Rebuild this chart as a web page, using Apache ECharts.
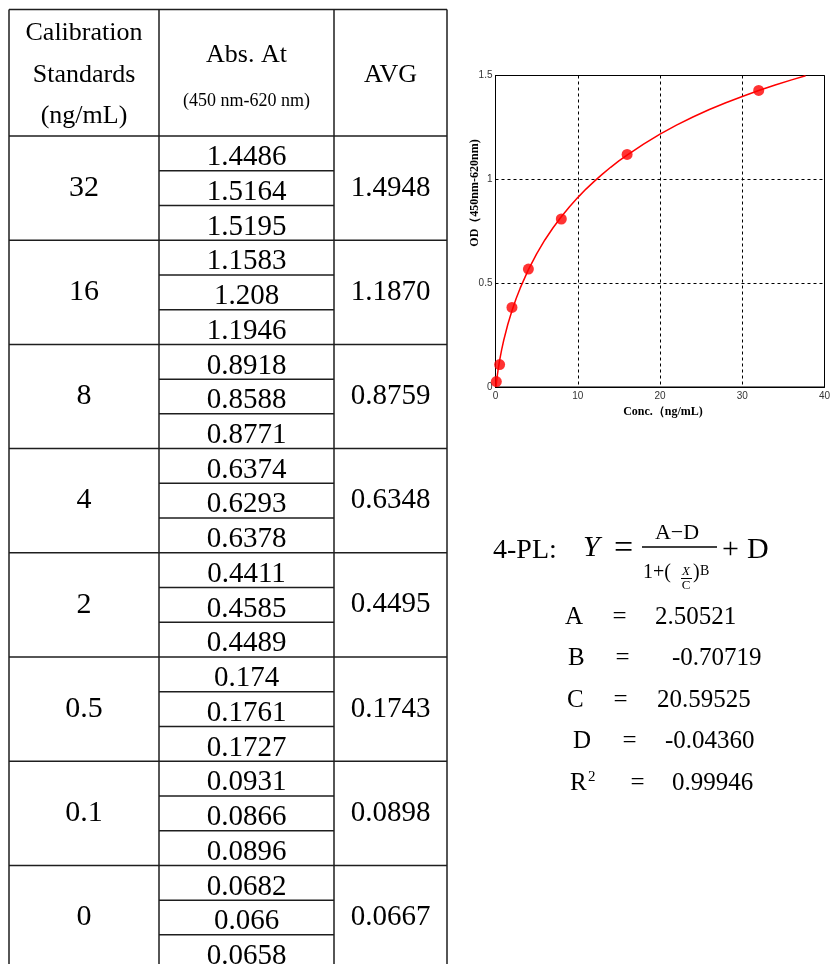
<!DOCTYPE html>
<html>
<head>
<meta charset="utf-8">
<script src="https://cdn.jsdelivr.net/npm/echarts@6/dist/echarts.min.js"></script>
<style>html,body{margin:0;padding:0;background:#fff;}#main{width:837px;height:964px;}</style>
</head>
<body>
<div id="main"></div>
<script>
// ---- table data ----
const headerCol1 = ['Calibration', 'Standards', '(ng/mL)'];
const headerCol2 = ['Abs. At', '(450 nm-620 nm)'];
const headerCol3 = ['AVG'];
const standards = ['32', '16', '8', '4', '2', '0.5', '0.1', '0'];
const replicates = [
  ['1.4486', '1.5164', '1.5195'],
  ['1.1583', '1.208', '1.1946'],
  ['0.8918', '0.8588', '0.8771'],
  ['0.6374', '0.6293', '0.6378'],
  ['0.4411', '0.4585', '0.4489'],
  ['0.174', '0.1761', '0.1727'],
  ['0.0931', '0.0866', '0.0896'],
  ['0.0682', '0.066', '0.0658']
];
const averages = ['1.4948', '1.1870', '0.8759', '0.6348', '0.4495', '0.1743', '0.0898', '0.0667'];

// ---- chart data ----
const pointConc = [32, 16, 8, 4, 2, 0.5, 0.1];
const pointOD = [1.428, 1.120, 0.809, 0.568, 0.383, 0.108, 0.026];
const curveConc = [0.07, 0.1, 0.15, 0.25, 0.35, 0.5, 0.75, 1, 1.5, 2, 2.5, 3, 4, 5, 6, 7, 8, 9, 10, 11, 12, 13, 14, 15, 16, 18, 20, 22, 24, 26, 28, 30, 32, 34, 36, 37.7];
const curveOD = [0.001, 0.014, 0.033, 0.064, 0.092, 0.128, 0.180, 0.225, 0.302, 0.367, 0.425, 0.476, 0.565, 0.641, 0.708, 0.767, 0.820, 0.868, 0.912, 0.953, 0.990, 1.025, 1.058, 1.089, 1.117, 1.170, 1.218, 1.261, 1.300, 1.336, 1.369, 1.399, 1.428, 1.454, 1.479, 1.499];
const xTicks = [0, 10, 20, 30, 40];
const yTicks = [0, 0.5, 1, 1.5];
const xTitle = 'Conc.（ng/mL)';
const yTitle = 'OD（450nm-620nm)';

// ---- 4PL text ----
const paramNames = ['A', 'B', 'C', 'D', 'R'];
const paramValues = ['2.50521', '-0.70719', '20.59525', '-0.04360', '0.99946'];

const SERIF = '"Liberation Serif", "Times New Roman", serif';
const chart = echarts.init(document.getElementById('main'), null, {renderer: 'canvas'});

const graphics = [];
const lineColor = '#1e1e1e';
const colX = [9, 159, 334, 447];
const tableTop = 9.5, headBottom = 136, groupH = 104.2, subH = groupH / 3;
function hline(x1, x2, y) {
  graphics.push({type: 'line', shape: {x1: x1, y1: y, x2: x2, y2: y}, style: {stroke: lineColor, lineWidth: 1.5}, silent: true});
}
function vline(x, y1, y2) {
  graphics.push({type: 'line', shape: {x1: x, y1: y1, x2: x, y2: y2}, style: {stroke: lineColor, lineWidth: 1.5}, silent: true});
}
function txt(x, y, text, font, align, extra) {
  const o = {type: 'text', x: x, y: y, silent: true,
    style: {text: text, font: font, fill: '#000', textAlign: align || 'center', textVerticalAlign: 'middle'}};
  if (extra) Object.assign(o, extra);
  graphics.push(o);
}
hline(colX[0], colX[3], tableTop);
hline(colX[0], colX[3], headBottom);
colX.forEach(x => vline(x, tableTop, 980));
standards.forEach((s, i) => {
  const g = headBottom + i * groupH;
  if (i > 0) hline(colX[0], colX[3], g);
  hline(colX[1], colX[2], g + subH);
  hline(colX[1], colX[2], g + 2 * subH);
  txt(84, g + 52, s, '30px ' + SERIF);
  txt(390.5, g + 52, averages[i], '29px ' + SERIF);
  replicates[i].forEach((r, k) => {
    txt(246.5, g + k * subH + 21.5, r, '29px ' + SERIF);
  });
});
// header
[33.5, 75, 116].forEach((y, i) => txt(84, y, headerCol1[i], '26px ' + SERIF));
txt(246.5, 55, headerCol2[0], '26px ' + SERIF);
txt(246.5, 101, headerCol2[1], '18px ' + SERIF);
txt(390.5, 75, headerCol3[0], '26px ' + SERIF);

// axis titles
txt(475, 193, yTitle, 'bold 12px ' + SERIF, 'center', {rotation: Math.PI / 2});
txt(663, 412, xTitle, 'bold 12px ' + SERIF, 'center');

// 4PL formula
txt(493, 551, '4-PL:', '28px ' + SERIF, 'left');
txt(583, 548, 'Y', 'italic 30px ' + SERIF, 'left');
txt(623.5, 549, '=', '34px ' + SERIF, 'center');
txt(677, 533, 'A\u2212D', '22px ' + SERIF, 'center');
graphics.push({type: 'line', shape: {x1: 642, y1: 547, x2: 717, y2: 547}, style: {stroke: '#000', lineWidth: 1.5}, silent: true});
txt(643, 573, '1+(', '20px ' + SERIF, 'left');
txt(686, 572, 'X', 'italic 13px ' + SERIF, 'center');
graphics.push({type: 'line', shape: {x1: 681, y1: 578.5, x2: 692, y2: 578.5}, style: {stroke: '#000', lineWidth: 1}, silent: true});
txt(686, 586, 'C', '13px ' + SERIF, 'center');
txt(693, 573, ')', '20px ' + SERIF, 'left');
txt(700, 571, 'B', '14px ' + SERIF, 'left');
txt(730.5, 550, '+', '30px ' + SERIF, 'center');
txt(747, 550, 'D', '30px ' + SERIF, 'left');

const paramY = [617, 658, 700, 741, 783];
const nameX = [565, 568, 567, 573, 570];
const eqX = [619.5, 622.5, 620.5, 629.5, 637.5];
const valX = [655, 672, 657, 665, 672];
paramNames.forEach((n, i) => {
  txt(nameX[i], paramY[i], n, '25px ' + SERIF, 'left');
  txt(eqX[i], paramY[i], '=', '25px ' + SERIF, 'center');
  txt(valX[i], paramY[i], paramValues[i], '25px ' + SERIF, 'left');
});
txt(588, 777, '2', '15px ' + SERIF, 'left');

const option = {
  animation: false,
  backgroundColor: '#fff',
  grid: {left: 495.5, top: 75.5, width: 329, height: 311.5, show: true, borderColor: '#000', borderWidth: 1},
  xAxis: {
    type: 'value', min: xTicks[0], max: xTicks[xTicks.length - 1], interval: 10,
    axisLine: {show: true, onZero: false, lineStyle: {color: '#000', width: 1}},
    axisTick: {show: false},
    axisLabel: {fontSize: 10, color: '#333', fontFamily: '"Liberation Sans", Arial, sans-serif', margin: 4},
    splitLine: {show: true, lineStyle: {color: '#000', type: [3, 3], width: 1}}
  },
  yAxis: {
    type: 'value', min: yTicks[0], max: yTicks[yTicks.length - 1], interval: 0.5,
    axisLine: {show: true, onZero: false, lineStyle: {color: '#000', width: 1}},
    axisTick: {show: false},
    axisLabel: {fontSize: 10, color: '#333', fontFamily: '"Liberation Sans", Arial, sans-serif', margin: 3},
    splitLine: {show: true, lineStyle: {color: '#000', type: [3, 3], width: 1}}
  },
  series: [
    {
      type: 'line', data: curveConc.map((x, i) => [x, curveOD[i]]),
      smooth: false, showSymbol: false, symbol: 'none',
      lineStyle: {color: '#ff0000', width: 1.5}, clip: true, z: 3
    },
    {
      type: 'scatter', data: pointConc.map((x, i) => [x, pointOD[i]]),
      symbol: 'circle', symbolSize: 11, itemStyle: {color: '#ff0000'}, clip: false, z: 4
    }
  ],
  graphic: graphics
};
chart.setOption(option);
</script>
</body>
</html>
